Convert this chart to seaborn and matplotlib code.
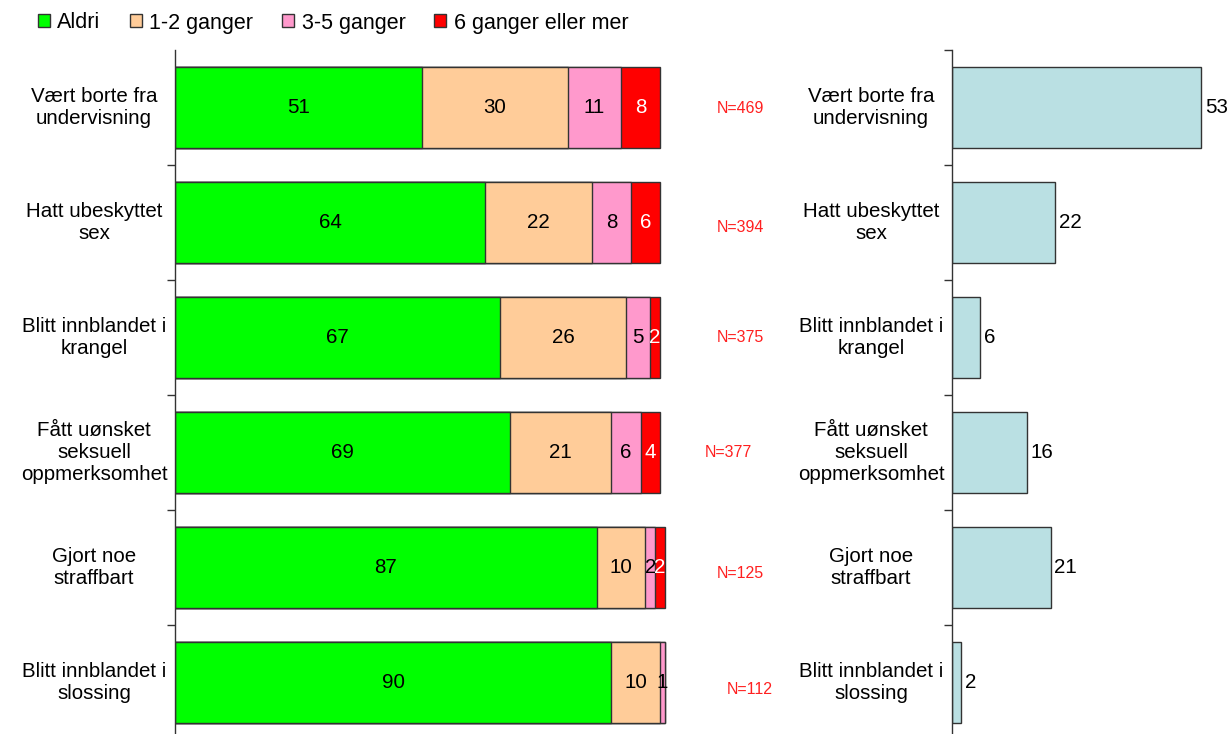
import matplotlib.pyplot as plt
import matplotlib.patches as mpatches
import seaborn as sns
import numpy as np
import pandas as pd

# categories (top to bottom)
labels = [
    "Vært borte fra\nundervisning",
    "Hatt ubeskyttet\nsex",
    "Blitt innblandet i\nkrangel",
    "Fått uønsket\nseksuell\noppmerksomhet",
    "Gjort noe\nstraffbart",
    "Blitt innblandet i\nslossing",
]
aldri = [51, 64, 67, 69, 87, 90]
g12 = [30, 22, 26, 21, 10, 10]
g35 = [11, 8, 5, 6, 2, 1]
g6 = [8, 6, 2, 4, 2, 0]
n_text = ["N=469", "N=394", "N=375", "N=377", "N=125", "N=112"]
share = [53, 22, 6, 16, 21, 2]

series = ["Aldri", "1-2 ganger", "3-5 ganger", "6 ganger eller mer"]
colors = ["#00FF00", "#FFCC99", "#FF99CC", "#FF0000"]
txt_colors = ["black", "black", "black", "white"]

# where the N labels sit (x in data units, y shift in rows)
n_x = [116.5, 116.5, 116.5, 114.0, 116.5, 118.5]
n_dy = [0.01, 0.04, 0.0, 0.0, 0.05, 0.06]

df = pd.DataFrame({"label": labels, "Aldri": aldri, "1-2 ganger": g12,
                   "3-5 ganger": g35, "6 ganger eller mer": g6,
                   "share": share})

sns.set_style("white")
plt.rcParams["font.family"] = ["Liberation Sans", "DejaVu Sans"]
plt.rcParams["text.color"] = "black"
FS = 14.8

fig = plt.figure(figsize=(12.31, 7.34), dpi=100)
W, H = 1231, 734
ax1 = fig.add_axes([175 / W, -6 / H, 605 / W, 690 / H])
ax2 = fig.add_axes([952 / W, -6 / H, 279 / W, 690 / H])

# stacked bars: draw cumulative totals, widest first
cum = df[series].cumsum(axis=1)
for s, c in reversed(list(zip(series, colors))):
    sns.barplot(x=cum[s], y=df["label"], orient="h", color=c, width=0.71,
                edgecolor="#333333", linewidth=1, saturation=1, ax=ax1)

for i in range(len(labels)):
    left = 0
    for s, tc in zip(series, txt_colors):
        v = df[s].iloc[i]
        if v > 0:
            ax1.text(left + v / 2, i, str(v), ha="center", va="center",
                     fontsize=FS, color=tc)
        left += v
    ax1.text(n_x[i], i + n_dy[i], n_text[i], ha="center", va="center",
             fontsize=11.5, color="#FF2020")

sns.barplot(x=df["share"], y=df["label"], orient="h", color="#BAE0E3",
            width=0.71, edgecolor="#333333", linewidth=1, saturation=1, ax=ax2)
for i, v in enumerate(share):
    ax2.text(v + 0.8, i, str(v), ha="left", va="center", fontsize=FS)

for ax, xmax, top_tick in [(ax1, 605 / 4.85, False), (ax2, 279 / 4.7, True)]:
    ax.set_xlim(0, xmax)
    ax.set_ylim(5.5, -0.5)
    ticks = np.arange(0.5, 5, 1.0)
    if top_tick:
        ticks = np.concatenate([[-0.5], ticks])
    ax.set_yticks(ticks)
    ax.set_yticklabels([])
    ax.tick_params(axis="y", direction="out", length=6, width=1, left=True,
                   color="#333333")
    ax.set_xticks([])
    ax.set_xlabel("")
    ax.set_ylabel("")
    for sp in ["top", "right", "bottom"]:
        ax.spines[sp].set_visible(False)
    ax.spines["left"].set_color("#333333")
    ax.spines["left"].set_linewidth(1)
    for i, lab in enumerate(labels):
        ax.annotate(lab, xy=(0, i), xycoords=("axes fraction", "data"),
                    xytext=(-81, 0), textcoords="offset pixels",
                    ha="center", va="center", multialignment="center",
                    fontsize=FS, annotation_clip=False)

handles = [mpatches.Patch(facecolor=c, edgecolor="#333333", label=s)
           for s, c in zip(series, colors)]
fig.legend(handles=handles, loc="center left", bbox_to_anchor=(38 / W, 1 - 23 / H),
           ncol=4, frameon=False, fontsize=15.5, handlelength=0.55,
           handleheight=0.55, handletextpad=0.35, columnspacing=1.35,
           borderpad=0, borderaxespad=0)

fig.savefig("out.png", dpi=100)
